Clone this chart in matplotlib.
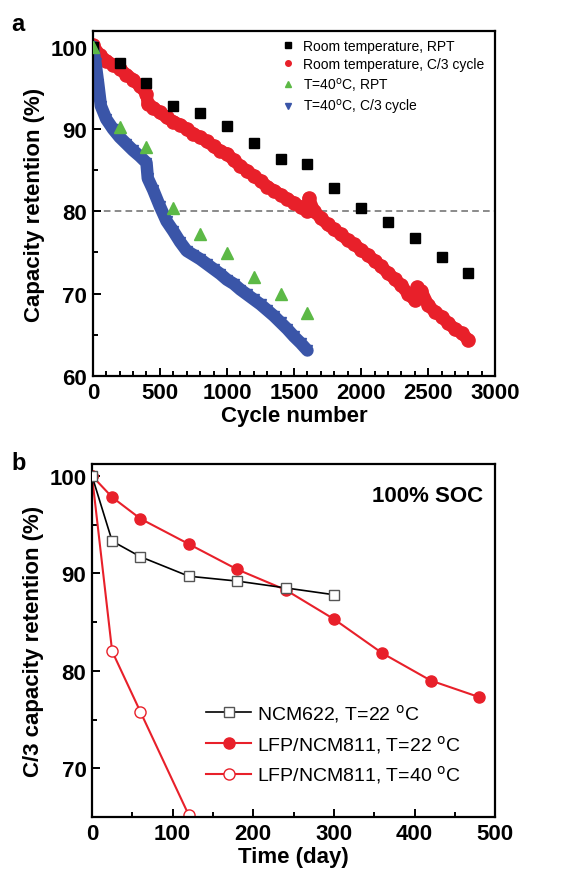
import matplotlib.pyplot as plt
from matplotlib.ticker import MultipleLocator
from matplotlib.lines import Line2D

plt.rcParams['font.family'] = ['Liberation Sans', 'DejaVu Sans']

# ---- panel a data ----
rpt_cycles = [0, 200, 400, 600, 800, 1000, 1200, 1400, 1600, 1800, 2000, 2200, 2400, 2600, 2800]
rpt_room = [100, 98.0, 95.6, 92.8, 91.9, 90.4, 88.3, 86.4, 85.7, 82.8, 80.4, 78.7, 76.8, 74.5, 72.5]

rpt40_cycles = [0, 200, 400, 600, 800, 1000, 1200, 1400, 1600]
rpt_40 = [100, 90.2, 87.8, 80.4, 77.2, 74.9, 72.0, 70.0, 67.6]

room_cyc = [0, 50, 100, 150, 200, 250, 300, 350, 400, 410, 450, 500, 550, 600, 650, 700,
            750, 800, 850, 900, 950, 1000, 1050, 1100, 1150, 1200, 1250, 1300, 1350, 1400,
            1450, 1500, 1550, 1600, 1610, 1650, 1700, 1750, 1800, 1850, 1900, 1950, 2000,
            2050, 2100, 2150, 2200, 2250, 2300, 2350, 2400, 2420, 2450, 2500, 2550, 2600,
            2650, 2700, 2750, 2800]
room_ret = [100.2, 99.0, 98.3, 97.8, 97.3, 96.6, 96.0, 95.2, 94.3, 93.0, 92.6, 92.0, 91.4,
            90.9, 90.5, 90.0, 89.4, 89.0, 88.5, 87.9, 87.3, 87.0, 86.2, 85.5, 84.9, 84.3,
            83.7, 83.0, 82.5, 82.0, 81.5, 81.0, 80.5, 80.0, 81.6, 80.0, 79.2, 78.4, 77.8,
            77.2, 76.5, 76.0, 75.3, 74.7, 74.0, 73.3, 72.5, 71.8, 71.0, 70.0, 69.2, 70.8,
            70.3, 68.6, 67.8, 67.2, 66.4, 65.7, 65.2, 64.4]

hot_cyc = [0, 20, 40, 60, 100, 150, 200, 250, 300, 350, 400, 410, 450, 500, 550, 600, 650,
           700, 750, 800, 850, 900, 950, 1000, 1050, 1100, 1150, 1200, 1250, 1300, 1350,
           1400, 1450, 1500, 1550, 1600]
hot_ret = [100, 98.0, 95.5, 92.8, 91.2, 90.0, 89.0, 88.2, 87.4, 86.7, 85.9, 84.0, 82.6, 80.6,
           78.8, 77.6, 76.3, 75.2, 74.7, 74.2, 73.6, 73.0, 72.4, 71.7, 71.2, 70.5, 69.9,
           69.3, 68.7, 68.0, 67.3, 66.5, 65.7, 64.8, 64.0, 63.1]

# ---- panel b data ----
ncm_days = [0, 25, 60, 120, 180, 240, 300]
ncm_22 = [100, 93.3, 91.7, 89.7, 89.2, 88.5, 87.8]
lfp_days = [0, 25, 60, 120, 180, 240, 300, 360, 420, 480]
lfp_22 = [100, 97.8, 95.6, 93.0, 90.4, 88.3, 85.3, 81.8, 79.0, 77.3]
lfp40_days = [0, 25, 60, 120]
lfp_40 = [100, 82.0, 75.8, 65.2]

red = '#e8202a'
blue = '#3a55a8'
green = '#5cb946'

fig = plt.figure(figsize=(5.66, 8.78), dpi=100)
ax1 = fig.add_axes([0.164, 0.5706, 0.711, 0.393])
ax2 = fig.add_axes([0.1625, 0.0683, 0.7125, 0.402])

# panel a
ax1.axhline(80, color='#777777', ls=(0, (4, 2.5)), lw=1.2, zorder=1)
ax1.plot(room_cyc, room_ret, color=red, lw=9, solid_capstyle='round',
         solid_joinstyle='round', marker='o', ms=9.5, zorder=2)
ax1.plot(hot_cyc, hot_ret, color=blue, lw=9, solid_capstyle='round',
         solid_joinstyle='round', marker='v', ms=7.5, zorder=2)
ax1.plot(rpt_cycles, rpt_room, 's', color='black', ms=7, zorder=3)
ax1.plot(rpt40_cycles, rpt_40, '^', color=green, ms=8, zorder=3)

ax1.set_xlim(0, 3000)
ax1.set_ylim(60, 101.9)
ax1.xaxis.set_major_locator(MultipleLocator(500))
ax1.xaxis.set_minor_locator(MultipleLocator(100))
ax1.yaxis.set_major_locator(MultipleLocator(10))
ax1.yaxis.set_minor_locator(MultipleLocator(5))
ax1.set_xlabel('Cycle number', fontsize=16, fontweight='bold', labelpad=2)
ax1.set_ylabel('Capacity retention (%)', fontsize=16, fontweight='bold', labelpad=4)

handles_a = [
    Line2D([], [], ls='', marker='s', color='black', ms=4),
    Line2D([], [], ls='', marker='o', color=red, ms=4),
    Line2D([], [], ls='', marker='^', color=green, ms=4),
    Line2D([], [], ls='', marker='v', color=blue, ms=4),
]
labels_a = ['Room temperature, RPT', 'Room temperature, C/3 cycle',
            'T=40$^{\\mathrm{o}}$C, RPT', 'T=40$^{\\mathrm{o}}$C, C/3 cycle']
ax1.legend(handles_a, labels_a, loc='upper right', bbox_to_anchor=(1.0, 1.01),
           frameon=False, fontsize=10, handlelength=1.0, handletextpad=0.6,
           labelspacing=0.3, borderaxespad=0.4)

# panel b
ax2.plot(ncm_days, ncm_22, color='black', lw=1.2, marker='s', ms=7,
         mfc='white', mec='#555555', mew=1.0, label='NCM622, T=22 $^{\\mathrm{o}}$C', zorder=3)
ax2.plot(lfp_days, lfp_22, color=red, lw=1.5, marker='o', ms=8,
         label='LFP/NCM811, T=22 $^{\\mathrm{o}}$C', zorder=2)
ax2.plot(lfp40_days, lfp_40, color=red, lw=1.5, marker='o', ms=8, mfc='white',
         mec=red, mew=1.0, label='LFP/NCM811, T=40 $^{\\mathrm{o}}$C', zorder=2)

ax2.set_xlim(0, 500)
ax2.set_ylim(65, 101.2)
ax2.xaxis.set_major_locator(MultipleLocator(100))
ax2.xaxis.set_minor_locator(MultipleLocator(50))
ax2.yaxis.set_major_locator(MultipleLocator(10))
ax2.yaxis.set_minor_locator(MultipleLocator(5))
ax2.set_xlabel('Time (day)', fontsize=16, fontweight='bold', labelpad=2)
ax2.set_ylabel('C/3 capacity retention (%)', fontsize=16, fontweight='bold', labelpad=4)
ax2.text(0.97, 0.94, '100% SOC', transform=ax2.transAxes, ha='right', va='top',
         fontsize=16, fontweight='bold')
ax2.legend(loc='lower left', bbox_to_anchor=(0.24, 0.04), frameon=False, fontsize=14,
           handlelength=2.3, handletextpad=0.3, labelspacing=0.45)

for ax in (ax1, ax2):
    for s in ax.spines.values():
        s.set_linewidth(1.6)
    ax.tick_params(which='both', direction='in', top=False, right=False, width=1.4)
    ax.tick_params(which='major', length=6, labelsize=16, pad=4)
    ax.tick_params(which='minor', length=3.5)
    for lab in ax.get_xticklabels() + ax.get_yticklabels():
        lab.set_fontweight('bold')

fig.text(0.02, 0.985, 'a', fontsize=17, fontweight='bold', va='top')
fig.text(0.02, 0.485, 'b', fontsize=17, fontweight='bold', va='top')

fig.savefig('out.png', dpi=100)
